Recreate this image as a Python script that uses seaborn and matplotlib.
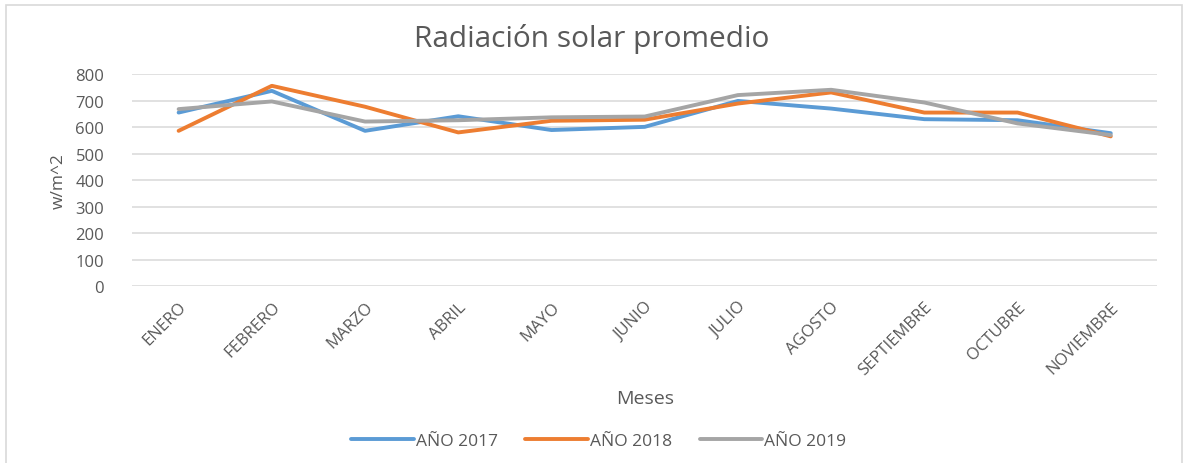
import matplotlib
matplotlib.use("Agg")
import matplotlib.pyplot as plt
import seaborn as sns
import pandas as pd
from matplotlib.patches import Rectangle

# Datos (w/m^2)
meses = ["ENERO", "FEBRERO", "MARZO", "ABRIL", "MAYO", "JUNIO", "JULIO",
         "AGOSTO", "SEPTIEMBRE", "OCTUBRE", "NOVIEMBRE"]
anio_2017 = [655, 737, 586, 641, 589, 601, 699, 670, 630, 626, 577]
anio_2018 = [586, 756, 677, 580, 624, 628, 689, 731, 655, 655, 565]
anio_2019 = [668, 697, 621, 626, 637, 640, 721, 741, 693, 614, 570]

series = {"AÑO 2017": anio_2017, "AÑO 2018": anio_2018, "AÑO 2019": anio_2019}
colores = {"AÑO 2017": "#5B9BD5", "AÑO 2018": "#ED7D31", "AÑO 2019": "#A5A5A5"}

df = pd.DataFrame(series, index=meses)
df["Meses"] = meses
largo = df.melt(id_vars="Meses", var_name="Serie", value_name="Radiacion")
largo["x"] = largo["Meses"].map({m: i for i, m in enumerate(meses)})

sns.set_theme(style="white")
plt.rcParams["font.family"] = ["Open Sans", "DejaVu Sans"]

fig = plt.figure(figsize=(11.84, 4.64), dpi=100)
ax = fig.add_axes([0.1115, 0.3815, 0.866, 0.4565])

sns.lineplot(data=largo, x="x", y="Radiacion", hue="Serie", palette=colores,
             linewidth=2.8, ax=ax, sort=False)

gris = "#595959"
ax.set_xlim(-0.5, len(meses) - 0.5)
ax.set_ylim(0, 800)
ax.set_yticks(range(0, 801, 100))
ax.yaxis.grid(True, color="#D9D9D9", linewidth=1.1)
ax.set_axisbelow(True)
for s in ax.spines.values():
    s.set_visible(False)
ax.set_xticks(range(len(meses)))
ax.set_xticklabels(meses, rotation=45, ha="right", rotation_mode="anchor")
ax.tick_params(axis="x", length=0, labelsize=12, labelcolor=gris, pad=9)
ax.tick_params(axis="y", length=0, labelsize=12, labelcolor=gris, pad=20)

ax.set_xlabel("Meses", fontsize=14, color=gris, labelpad=8)
ax.set_ylabel("w/m^2", fontsize=12.5, color=gris, labelpad=6)
fig.text(0.5, 0.915, "Radiación solar promedio", fontsize=21.5, color=gris,
         ha="center", va="center")

ax.legend(loc="center", bbox_to_anchor=(0.455, -0.73), ncol=3,
          frameon=False, fontsize=12.5, handlelength=3.6, handletextpad=0.1,
          columnspacing=1.6, labelcolor=gris)

fig.patches.append(Rectangle((6 / 1184, -0.01), 1176 / 1184, 1 - 6 / 464 + 0.01,
                             transform=fig.transFigure, fill=False,
                             edgecolor="#D9D9D9", linewidth=1.2))

fig.savefig("out.png", dpi=100)
